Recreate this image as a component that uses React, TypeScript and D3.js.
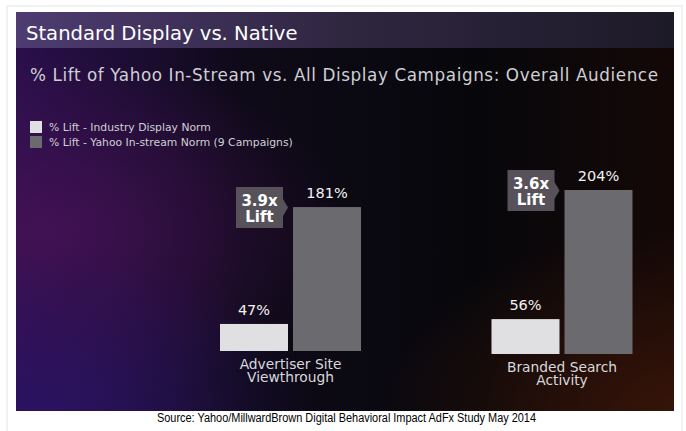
import React from "react";
import * as d3 from "d3";

const categories = [["Advertiser Site", "Viewthrough"], ["Branded Search", "Activity"]];
const industryNorm = [47, 56];
const yahooNorm = [181, 204];
const liftLabels = ["3.9x", "3.6x"];
const seriesNames = ["% Lift - Industry Display Norm", "% Lift - Yahoo In-stream Norm (9 Campaigns)"];
const seriesColors = ["#e0e0e2", "#6b6b6f"];
const title = "Standard Display vs. Native";
const subtitle = "% Lift of Yahoo In-Stream vs. All Display Campaigns: Overall Audience";
const source = "Source: Yahoo/MillwardBrown Digital Behavioral Impact AdFx Study May 2014";

const W = 686;
const H = 431;
const groupBaseline = [351, 354];
const font = "'DejaVu Sans', 'Open Sans', sans-serif";

export default function App() {
  const groupX = d3.scalePoint<number>().domain([0, 1]).range([290.5, 562]);
  const inner = d3.scaleBand<number>().domain([0, 1]).range([-70.5, 70.5]).paddingInner(0.0685);
  const h = d3.scaleLinear().domain([16, 204]).range([0, 164]);
  const bw = inner.bandwidth();

  return (
    <svg width={W} height={H} style={{ position: "absolute", left: 0, top: 0, display: "block" }}>
      <defs>
        <linearGradient id="bgLin" x1="0" y1="0" x2="1" y2="0">
          <stop offset="0" stopColor="#2a0f4c" />
          <stop offset="0.35" stopColor="#0e0a18" />
          <stop offset="0.7" stopColor="#07070b" />
          <stop offset="1" stopColor="#140807" />
        </linearGradient>
        <radialGradient id="glowL" cx="0.05" cy="0.55" r="0.45">
          <stop offset="0" stopColor="#4a1258" stopOpacity="0.75" />
          <stop offset="1" stopColor="#4a1258" stopOpacity="0" />
        </radialGradient>
        <radialGradient id="glowBL" cx="0.05" cy="1" r="0.4">
          <stop offset="0" stopColor="#2c1468" stopOpacity="0.8" />
          <stop offset="1" stopColor="#2c1468" stopOpacity="0" />
        </radialGradient>
        <radialGradient id="glowBR" cx="1" cy="1" r="0.45">
          <stop offset="0" stopColor="#3c1608" stopOpacity="0.85" />
          <stop offset="1" stopColor="#3c1608" stopOpacity="0" />
        </radialGradient>
        <linearGradient id="titleBand" x1="0" y1="0" x2="1" y2="0">
          <stop offset="0" stopColor="#4e3c72" />
          <stop offset="0.5" stopColor="#2f2640" />
          <stop offset="1" stopColor="#1d1a28" />
        </linearGradient>
      </defs>
      <rect x={7} y={6} width={675} height={440} fill="#fff" stroke="#e6e6e6" strokeWidth={1} />
      <g>
        <rect x={16} y={12} width={658} height={399} fill="url(#bgLin)" />
        <rect x={16} y={12} width={658} height={399} fill="url(#glowL)" />
        <rect x={16} y={12} width={658} height={399} fill="url(#glowBL)" />
        <rect x={16} y={12} width={658} height={399} fill="url(#glowBR)" />
        <rect x={16} y={12} width={658} height={36} fill="url(#titleBand)" />
      </g>
      <text x={26} y={39.5} fill="#ffffff" fontFamily={font} fontSize={19.6}>{title}</text>
      <text x={30} y={80.5} fill="#cfcfd4" fontFamily={font} fontSize={16.8} textLength={628} lengthAdjust="spacing">{subtitle}</text>

      {seriesNames.map((s, i) => (
        <g key={s} transform={`translate(30,${121 + i * 15})`}>
          <rect x={0} y={0} width={12} height={12} fill={seriesColors[i]} />
          <text x={19} y={10} fill="#d0d0d4" fontFamily={font} fontSize={10.8}>{s}</text>
        </g>
      ))}

      {categories.map((cat, gi) => {
        const cx = groupX(gi) as number;
        const base = groupBaseline[gi];
        const vals = [industryNorm[gi], yahooNorm[gi]];
        const darkX = cx + (inner(1) as number);
        const darkTop = base - h(yahooNorm[gi]);
        const bx0 = darkX - 57;
        const bx1 = darkX - 10;
        const by0 = darkTop - 20;
        const by1 = darkTop + 21;
        const badge = `M${bx0},${by0}L${bx1},${by0}L${bx1},${by0 + 12}L${darkX - 5},${(by0 + by1) / 2}L${bx1},${by1 - 12}L${bx1},${by1}L${bx0},${by1}Z`;
        return (
          <g key={gi}>
            {vals.map((v, si) => {
              const x = cx + (inner(si) as number);
              const top = base - h(v);
              return (
                <g key={si}>
                  <rect x={x} y={top} width={bw} height={h(v)} fill={seriesColors[si]} />
                  <text x={x + bw / 2} y={top - 9} textAnchor="middle" fill="#f2f2f2" fontFamily={font} fontSize={14.5}>{v}%</text>
                </g>
              );
            })}
            <path d={badge} fill="#57525a" />
            <text x={(bx0 + bx1) / 2} y={by0 + 19} textAnchor="middle" fill="#ffffff" fontFamily={font} fontSize={15} fontWeight={600}>{liftLabels[gi]}</text>
            <text x={(bx0 + bx1) / 2} y={by0 + 34.5} textAnchor="middle" fill="#ffffff" fontFamily={font} fontSize={15} fontWeight={600}>Lift</text>
            {cat.map((line, li) => (
              <text key={li} x={cx} y={base + 18 + li * 13} textAnchor="middle" fill="#d8d8dc" fontFamily={font} fontSize={13.8}>{line}</text>
            ))}
          </g>
        );
      })}

      <text x={346.5} y={422} textAnchor="middle" fill="#000" fontFamily="'Liberation Sans Narrow', 'Arial Narrow', 'Liberation Sans', sans-serif" fontSize={12.5} textLength={379} lengthAdjust="spacingAndGlyphs">{source}</text>
    </svg>
  );
}
